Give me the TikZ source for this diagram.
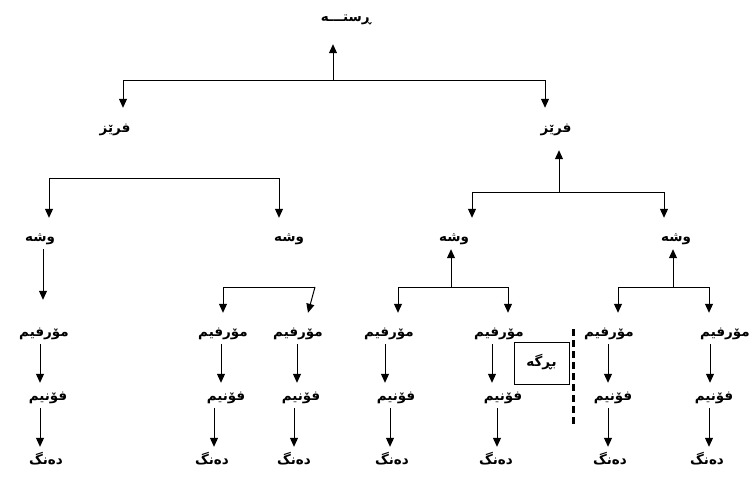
\documentclass[tikz,border=0pt]{standalone}
\usepackage{fontspec}
\newfontfamily\kurd[Script=Arabic]{DejaVu Sans}
\TeXXeTstate=1
\usetikzlibrary{arrows.meta}

\tikzset{
  lbl/.style={font=\fontsize{13.5}{15}\kurd\bfseries, inner sep=0pt,
    minimum height=22pt, text height=10pt, text depth=4pt,
    execute at begin node=\beginR, execute at end node=\endR},
  arr/.style={line width=1pt, -{Triangle[length=9pt,width=8pt]}},
  gap/.style={shorten >=9pt},
  box/.style={lbl, draw, line width=0.8pt, minimum width=55pt, minimum height=42pt},
}

\begin{document}
\begin{tikzpicture}[x=1pt,y=-1pt]
\useasboundingbox (0,0) rectangle (752,492);

% sentence and phrases
\node[lbl] (r) at (346,19) {ڕستـــە};
\node[lbl] (p1) at (115,130) {فرێز};
\node[lbl] (p2) at (556,130) {فرێز};

% words
\node[lbl] (w1) at (40,238) {وشە};
\node[lbl] (w2) at (289,238) {وشە};
\node[lbl] (w3) at (454,238) {وشە};
\node[lbl] (w4) at (676,238) {وشە};

% morphemes
\node[lbl] (m1) at (44,333) {مۆرفیم};
\node[lbl] (m2) at (223,333) {مۆرفیم};
\node[lbl] (m3) at (298,333) {مۆرفیم};
\node[lbl] (m4) at (389,333) {مۆرفیم};
\node[lbl] (m5) at (499,333) {مۆرفیم};
\node[lbl] (m6) at (609,333) {مۆرفیم};
\node[lbl] (m7) at (725,333) {مۆرفیم};

% phonemes
\node[lbl] (f1) at (48,397) {فۆنیم};
\node[lbl] (f2) at (226,397) {فۆنیم};
\node[lbl] (f3) at (301,397) {فۆنیم};
\node[lbl] (f4) at (396,397) {فۆنیم};
\node[lbl] (f5) at (503,397) {فۆنیم};
\node[lbl] (f6) at (613,397) {فۆنیم};
\node[lbl] (f7) at (714,397) {فۆنیم};

% sounds
\node[lbl] (d1) at (46,461) {دەنگ};
\node[lbl] (d2) at (212,461) {دەنگ};
\node[lbl] (d3) at (294,461) {دەنگ};
\node[lbl] (d4) at (392,461) {دەنگ};
\node[lbl] (d5) at (496,461) {دەنگ};
\node[lbl] (d6) at (610,461) {دەنگ};
\node[lbl] (d7) at (707,461) {دەنگ};

% syllable
\node[box] (s) at (541.5,363) {بڕگە};
\draw[line width=3pt, dash pattern=on 7pt off 4pt] (573,329) -- (573,425);

% top bar
\coordinate (t0) at (333,81);
\draw[arr, shorten >=14pt] (t0) -- (r.south -| t0);
\draw[arr, shorten >=11pt] (t0) -| ([xshift=8pt]p1.north);
\draw[arr, shorten >=11pt] (t0) -| ([xshift=-11pt]p2.north);

% left phrase
\coordinate (t1) at (164,178);
\draw[arr, gap] (t1) -| ([xshift=9pt]w1.north);
\draw[arr, gap] (t1) -| ([xshift=-10pt]w2.north);

% right phrase
\coordinate (t2) at (559,192);
\draw[arr, gap] (t2) -- (p2.south -| t2);
\draw[arr, gap] (t2) -| ([xshift=18pt]w3.north);
\draw[arr, gap] (t2) -| ([xshift=-12pt]w4.north);

% words to morphemes
\draw[arr, shorten >=22pt] ([xshift=3pt]w1.south) -- ([xshift=-1pt]m1.north);
\coordinate (t3) at (315,287);
\draw[arr, gap] (t3) -| (m2.north);
\draw[arr] (t3) -- ([xshift=10pt,yshift=9pt]m3.north);
\coordinate (t4) at (451,287);
\draw[arr] (t4) -- (w3.south -| t4);
\draw[arr, gap] (t4) -| ([xshift=9pt]m4.north);
\draw[arr, gap] (t4) -| ([xshift=9pt]m5.north);
\coordinate (t5) at (673,287);
\draw[arr] (t5) -- (w4.south -| t5);
\draw[arr, gap] (t5) -| ([xshift=9pt]m6.north);
\draw[arr, gap] (t5) -| ([xshift=-16pt]m7.north);

% morphemes to phonemes
\draw[arr, shorten >=3pt] ([xshift=-4pt]m1.south) -- ([xshift=-8pt]f1.north);
\draw[arr, shorten >=3pt] ([xshift=-2pt]m2.south) -- ([xshift=-5pt]f2.north);
\draw[arr, shorten >=3pt] ([xshift=-1pt]m3.south) -- ([xshift=-4pt]f3.north);
\draw[arr, shorten >=3pt] ([xshift=-4pt]m4.south) -- ([xshift=-11pt]f4.north);
\draw[arr, shorten >=3pt] ([xshift=-7pt]m5.south) -- ([xshift=-11pt]f5.north);
\draw[arr, shorten >=3pt] ([xshift=-1pt]m6.south) -- ([xshift=-5pt]f6.north);
\draw[arr, shorten >=3pt] ([xshift=-15pt]m7.south) -- ([xshift=-4pt]f7.north);

% phonemes to sounds
\draw[arr, shorten >=3pt] ([xshift=-8pt]f1.south) -- ([xshift=-6pt]d1.north);
\draw[arr, shorten >=3pt] ([xshift=-12pt]f2.south) -- ([xshift=2pt]d2.north);
\draw[arr, shorten >=3pt] ([xshift=-7pt]f3.south) -- (d3.north);
\draw[arr, shorten >=3pt] ([xshift=-6pt]f4.south) -- ([xshift=-2pt]d4.north);
\draw[arr, shorten >=3pt] ([xshift=-6pt]f5.south) -- ([xshift=1pt]d5.north);
\draw[arr, shorten >=3pt] ([xshift=-5pt]f6.south) -- ([xshift=-2pt]d6.north);
\draw[arr, shorten >=3pt] ([xshift=-5pt]f7.south) -- ([xshift=2pt]d7.north);

\end{tikzpicture}
\end{document}
